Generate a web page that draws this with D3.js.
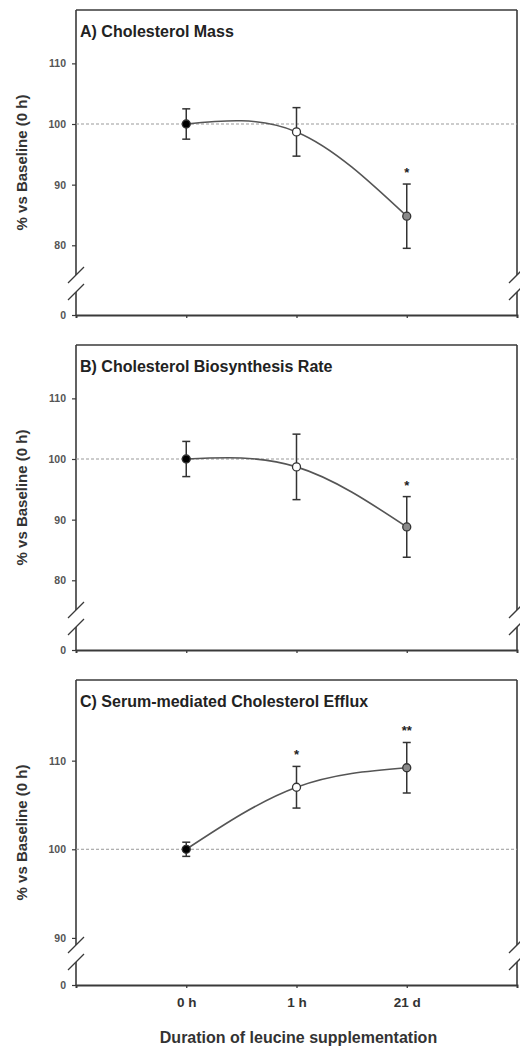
<!DOCTYPE html>
<html>
<head>
<meta charset="UTF-8">
<title>leucine</title>
<script src="https://cdn.jsdelivr.net/npm/d3@7"></script>
<style>
  body { margin: 0; background: #fff; }
  text { font-family: "Liberation Sans", Arial, sans-serif; font-weight: bold; }
</style>
</head>
<body>
<svg id="chart" width="520" height="1050"></svg>
<script>
// values
const timepoints = ["0 h", "1 h", "21 d"];
const titles = ["A) Cholesterol Mass", "B) Cholesterol Biosynthesis Rate", "C) Serum-mediated Cholesterol Efflux"];

const massMean = [100, 98.7, 84.8];
const massErr = [2.5, 4.0, 5.3];
const massSig = ["", "", "*"];

const bioMean = [100, 98.7, 88.8];
const bioErr = [2.9, 5.4, 5.0];
const bioSig = ["", "", "*"];

const effluxMean = [100, 107.0, 109.2];
const effluxErr = [0.8, 2.35, 2.85];
const effluxSig = ["", "*", "**"];

const massTicks = [0, 80, 90, 100, 110];
const effluxTicks = [0, 90, 100, 110];
// [value at axis break, value at top of frame]
const massDomain = [75.1, 118.8];
const effluxDomain = [89.2, 119.1];
const baseline = 100;

const panels = [
  { title: titles[0], mean: massMean, err: massErr, sig: massSig, ticks: massTicks, dom: massDomain, top: 10 },
  { title: titles[1], mean: bioMean, err: bioErr, sig: bioSig, ticks: massTicks, dom: massDomain, top: 345 },
  { title: titles[2], mean: effluxMean, err: effluxErr, sig: effluxSig, ticks: effluxTicks, dom: effluxDomain, top: 680 }
];

const svg = d3.select("#chart");
const left = 76, right = 517, panelH = 305;
const fills = ["#000", "#fff", "#8a8a8a"];
const ink = "#3a3a3a";

const x = d3.scaleLinear().domain([0, 4]).range([left, right]);

panels.forEach((p, pi) => {
  const zeroY = p.top + panelH;
  const brkY = zeroY - 40, resumeY = zeroY - 23;
  const y = d3.scaleLinear().domain([0, p.dom[0], p.dom[1]]).range([zeroY, brkY, p.top]);
  const g = svg.append("g");

  // frame: top, left and right with breaks
  g.append("line").attr("x1", left).attr("x2", right).attr("y1", p.top).attr("y2", p.top)
    .attr("stroke", ink).attr("stroke-width", 1.6);
  [left, right].forEach(xx => {
    g.append("line").attr("x1", xx).attr("x2", xx).attr("y1", p.top).attr("y2", brkY)
      .attr("stroke", ink).attr("stroke-width", 1.6);
    g.append("line").attr("x1", xx).attr("x2", xx).attr("y1", resumeY).attr("y2", zeroY)
      .attr("stroke", ink).attr("stroke-width", 1.6);
    [brkY, resumeY].forEach(yy => {
      g.append("line").attr("x1", xx - 8).attr("y1", yy + 8).attr("x2", xx + 8).attr("y2", yy - 8)
        .attr("stroke", ink).attr("stroke-width", 1.3);
    });
  });

  // bottom axis
  const xAxis = d3.axisBottom(x).tickValues([0, 1, 2, 3, 4]).tickSize(3)
    .tickFormat(d => (pi === 2 && d >= 1 && d <= 3) ? timepoints[d - 1] : "");
  const gx = g.append("g").attr("transform", `translate(0,${zeroY})`).call(xAxis);
  gx.select(".domain").attr("stroke", ink).attr("stroke-width", 1.8);
  gx.selectAll(".tick line").attr("stroke", ink).attr("stroke-width", 1.3);
  gx.selectAll(".tick text").attr("font-size", 13.5).attr("fill", "#333").attr("dy", "1.15em");

  // left axis ticks
  const yAxis = d3.axisLeft(y).tickValues(p.ticks).tickSize(4).tickFormat(d3.format("d"));
  const gy = g.append("g").attr("transform", `translate(${left},0)`).call(yAxis);
  gy.select(".domain").remove();
  gy.selectAll(".tick line").attr("stroke", ink).attr("stroke-width", 1.2);
  gy.selectAll(".tick text").attr("font-size", 10.5).attr("fill", "#555").attr("x", -10);

  // y label
  g.append("text")
    .attr("transform", `translate(27,${p.top + panelH / 2}) rotate(-90)`)
    .attr("text-anchor", "middle").attr("font-size", 15).attr("fill", "#333")
    .text("% vs Baseline (0 h)");

  // title
  g.append("text").attr("x", 80).attr("y", p.top + 26.5)
    .attr("font-size", 16).attr("fill", "#222").text(p.title);

  // baseline reference
  g.append("line").attr("x1", left).attr("x2", right)
    .attr("y1", y(baseline)).attr("y2", y(baseline))
    .attr("stroke", "#999").attr("stroke-width", 1).attr("stroke-dasharray", "3,2");

  const pts = p.mean.map((m, i) => ({ i: i, m: m, e: p.err[i], s: p.sig[i] }));

  // smooth curve
  const line = d3.line().x(d => x(d.i + 1)).y(d => y(d.m)).curve(d3.curveNatural);
  g.append("path").datum(pts).attr("d", line)
    .attr("fill", "none").attr("stroke", "#555").attr("stroke-width", 1.6);

  // error bars
  pts.forEach(d => {
    const cx = x(d.i + 1);
    g.append("line").attr("x1", cx).attr("x2", cx).attr("y1", y(d.m - d.e)).attr("y2", y(d.m + d.e))
      .attr("stroke", "#333").attr("stroke-width", 1.5);
    [d.m - d.e, d.m + d.e].forEach(v => {
      g.append("line").attr("x1", cx - 4).attr("x2", cx + 4).attr("y1", y(v)).attr("y2", y(v))
        .attr("stroke", "#333").attr("stroke-width", 1.5);
    });
    if (d.s) {
      g.append("text").attr("x", cx).attr("y", y(d.m + d.e) - 7)
        .attr("text-anchor", "middle").attr("font-size", 13).attr("fill", "#222").text(d.s);
    }
  });

  // markers
  g.selectAll("circle").data(pts).join("circle")
    .attr("cx", d => x(d.i + 1)).attr("cy", d => y(d.m)).attr("r", 4)
    .attr("fill", d => fills[d.i]).attr("stroke", "#333").attr("stroke-width", 1.3);
});

svg.append("text").attr("x", (left + right) / 2 + 2).attr("y", 1043)
  .attr("text-anchor", "middle").attr("font-size", 16).attr("fill", "#333")
  .text("Duration of leucine supplementation");
</script>
</body>
</html>
